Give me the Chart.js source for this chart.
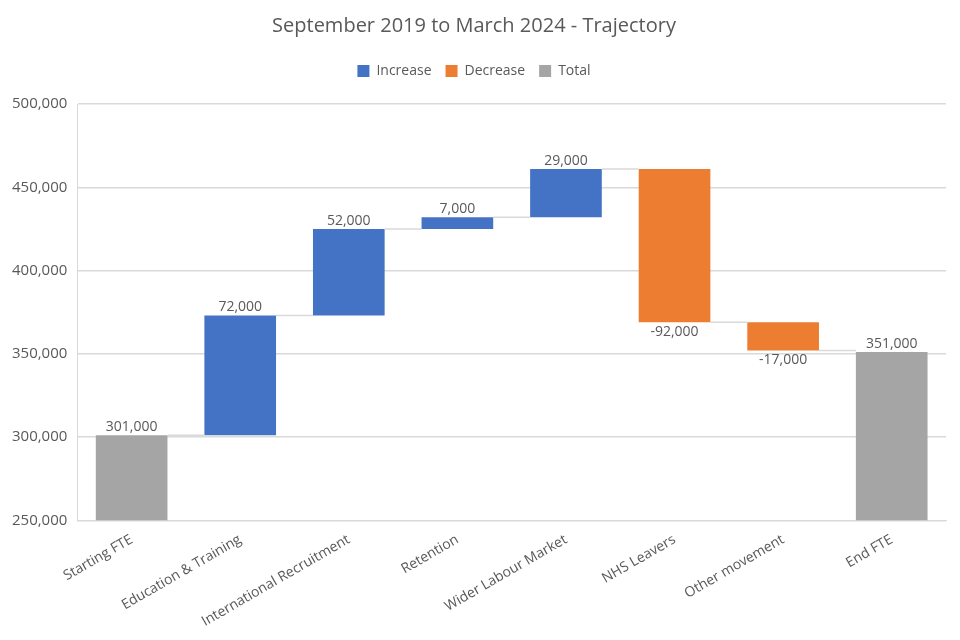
<!DOCTYPE html>
<html>
<head>
<meta charset="utf-8">
<script src="https://cdn.jsdelivr.net/npm/chart.js@4"></script>
<style>
  html, body { margin: 0; padding: 0; background: #fff; }
  #chartDiv { width: 960px; height: 640px; }
</style>
</head>
<body>
<div id="chartDiv"><canvas id="waterfallChart"></canvas></div>
<script>
var categories = ["Starting FTE", "Education & Training", "International Recruitment", "Retention",
                  "Wider Labour Market", "NHS Leavers", "Other movement", "End FTE"];
var changes = [301000, 72000, 52000, 7000, 29000, -92000, -17000, 351000];
var kinds = ["total", "up", "up", "up", "up", "down", "down", "total"];
var yTicks = [250000, 300000, 350000, 400000, 450000, 500000];

var axisMin = 250000;
var axisMax = 500000;

// running levels for the floating bars
var increaseData = [], decreaseData = [], totalData = [], ranges = [];
var level = 0;
for (var i = 0; i < changes.length; i++) {
    var r;
    if (kinds[i] == "total") {
        level = changes[i];
        r = [axisMin - 1500, level];
    } else {
        r = [level, level + changes[i]];
        level = level + changes[i];
    }
    ranges.push(r);
    increaseData.push(kinds[i] == "up" ? r : null);
    decreaseData.push(kinds[i] == "down" ? r : null);
    totalData.push(kinds[i] == "total" ? r : null);
}

function fmt(v) {
    return v.toLocaleString('en-US');
}

// push the plot area down a bit below the legend
var legendSpacer = {
    id: 'legendSpacer',
    beforeInit: function(chart) {
        var origFit = chart.legend.fit;
        chart.legend.fit = function() {
            origFit.bind(chart.legend)();
            this.height += 16;
        };
    }
};

var waterfallExtras = {
    id: 'waterfallExtras',
    afterDatasetsDraw: function(chart) {
        var ctx = chart.ctx;
        var x = chart.scales.x, y = chart.scales.y;
        var half = x.width / categories.length * 0.33;
        ctx.save();
        // connectors
        ctx.strokeStyle = '#d9d9d9';
        ctx.lineWidth = 1.5;
        for (var i = 0; i < ranges.length - 1; i++) {
            var yy = y.getPixelForValue(ranges[i][1]);
            ctx.beginPath();
            ctx.moveTo(x.getPixelForValue(i) + half, yy);
            ctx.lineTo(x.getPixelForValue(i + 1) - half, yy);
            ctx.stroke();
        }
        // labels
        ctx.fillStyle = '#595959';
        ctx.font = '14px "Open Sans"';
        ctx.textAlign = 'center';
        for (var j = 0; j < ranges.length; j++) {
            var cx = x.getPixelForValue(j);
            if (kinds[j] == "down") {
                ctx.textBaseline = 'top';
                ctx.fillText(fmt(changes[j]), cx, y.getPixelForValue(ranges[j][1]) + 3);
            } else {
                ctx.textBaseline = 'bottom';
                ctx.fillText(fmt(changes[j]), cx, y.getPixelForValue(ranges[j][1]) - 1);
            }
        }
        ctx.restore();
    }
};

var data = {
    labels: categories,
    datasets: [
        { label: 'Increase', data: increaseData, backgroundColor: '#4472C4' },
        { label: 'Decrease', data: decreaseData, backgroundColor: '#ED7D31' },
        { label: 'Total', data: totalData, backgroundColor: '#A5A5A5' }
    ]
};

var options = {
    responsive: true,
    maintainAspectRatio: false,
    animation: false,
    layout: { padding: { left: 2, right: 14, top: 12, bottom: 7 } },
    datasets: { bar: { barPercentage: 0.66, categoryPercentage: 1.0, borderSkipped: false } },
    plugins: {
        title: {
            display: true,
            text: 'September 2019 to March 2024 - Trajectory',
            color: '#595959',
            font: { family: '"Open Sans"', size: 20, weight: 'normal' },
            padding: { top: 2, bottom: 12 }
        },
        legend: {
            position: 'top',
            labels: {
                color: '#595959',
                font: { family: '"Open Sans"', size: 14 },
                boxWidth: 12,
                boxHeight: 12,
                padding: 14
            }
        },
        tooltip: { enabled: false }
    },
    scales: {
        x: {
            stacked: true,
            grid: { display: false },
            border: { color: '#d9d9d9' },
            ticks: {
                color: '#595959',
                font: { family: '"Open Sans"', size: 14 },
                minRotation: 30,
                maxRotation: 30,
                autoSkip: false
            }
        },
        y: {
            stacked: false,
            min: axisMin,
            max: axisMax,
            afterBuildTicks: function(axis) {
                axis.ticks = yTicks.map(function(v) { return { value: v }; });
            },
            grid: { color: '#d9d9d9', lineWidth: 1.5, drawTicks: false },
            border: { display: true, color: '#d9d9d9' },
            ticks: {
                color: '#595959',
                font: { family: '"Open Sans"', size: 15 },
                padding: 10,
                callback: function(v) { return fmt(v); }
            }
        }
    }
};

new Chart(document.getElementById('waterfallChart'), {
    type: 'bar',
    data: data,
    options: options,
    plugins: [legendSpacer, waterfallExtras]
});
</script>
</body>
</html>
